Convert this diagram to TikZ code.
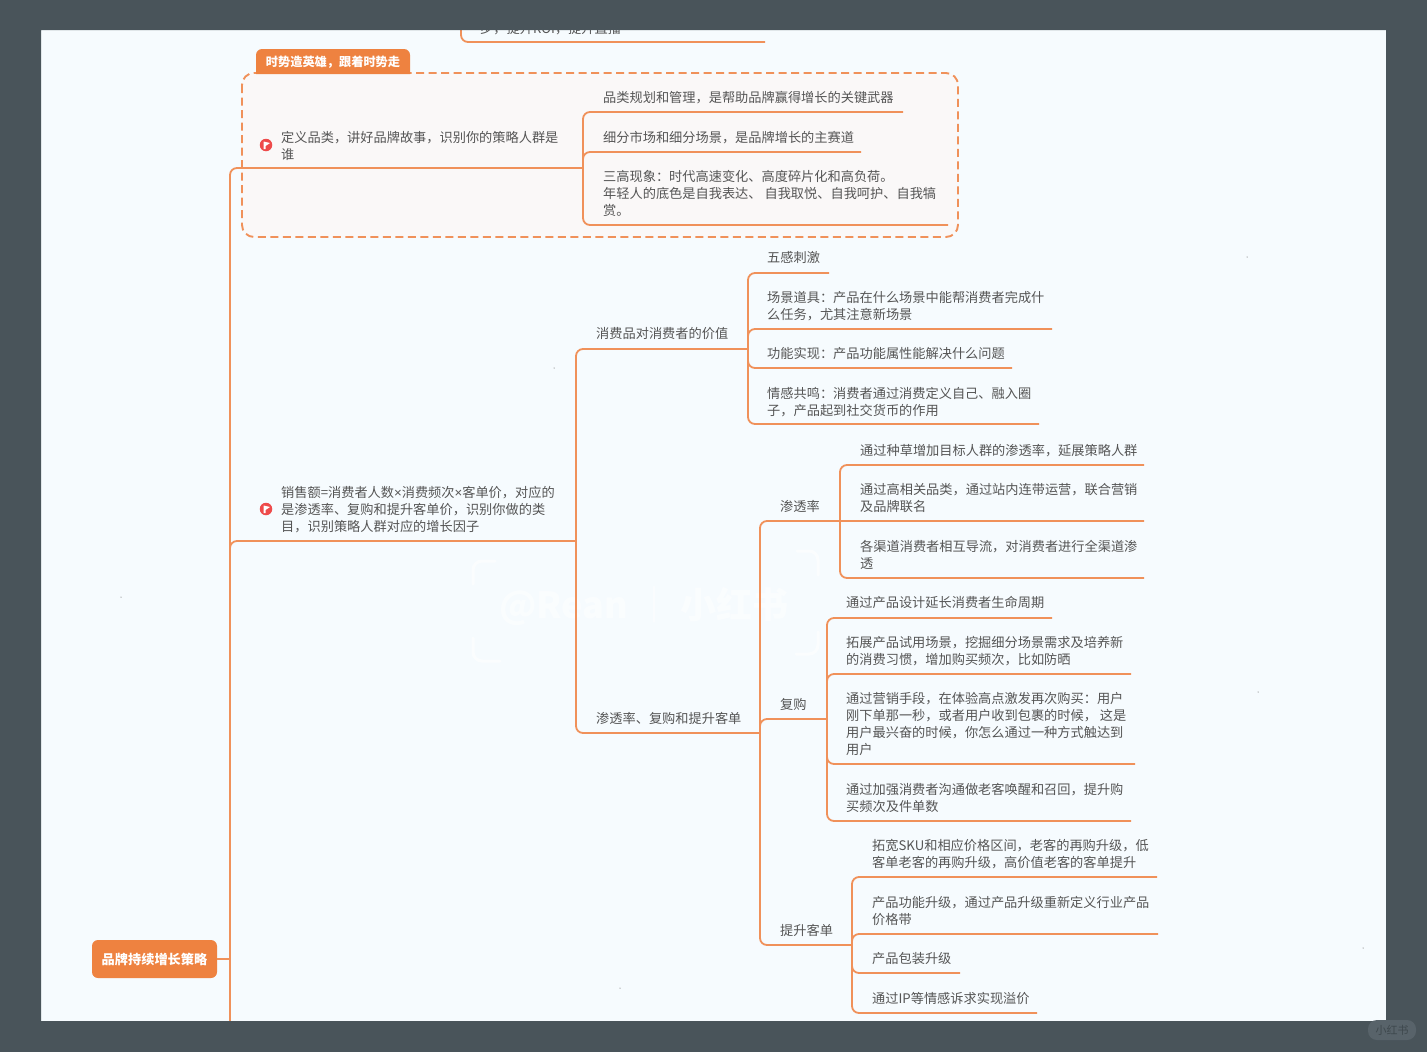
\documentclass[tikz,border=0pt]{standalone}
\usepackage{fontspec}
\setmainfont{Noto Sans CJK SC}
\newfontfamily\latinnarrow{Liberation Sans}
\newcommand{\narrowtimes}{{\latinnarrow ×}}
\definecolor{framedark}{HTML}{49545A}
\definecolor{paper}{HTML}{F6FBFE}
\definecolor{groupfill}{HTML}{FAF8F8}
\definecolor{mapline}{HTML}{F0915A}
\definecolor{boxfill}{HTML}{EE8240}
\definecolor{inktext}{HTML}{555555}
\definecolor{flagred}{HTML}{EE4B4B}
\definecolor{badgegrey}{HTML}{58636A}
\definecolor{badgetext}{HTML}{3E484D}
\tikzset{
  link/.style={draw=mapline,line width=1.8pt,rounded corners=7pt},
  leaf/.style={anchor=west,inner sep=0pt,align=left,text=inktext,yshift=-.6pt,font=\fontsize{13.2}{17}\selectfont},
  titlebox/.style={fill=boxfill,rounded corners=6pt,text=white,inner sep=0pt,font=\bfseries\fontsize{13.2}{15}\selectfont},
  flagdot/.style={circle,fill=flagred,minimum size=12.5pt,inner sep=0pt},
  speck/.style={circle,fill=black!70,minimum size=1pt,inner sep=0pt},
  wmark/.style={draw=white,line width=3pt,line cap=round,rounded corners=9pt,opacity=.6},
}
\begin{document}
\begin{tikzpicture}[x=1pt,y=-1pt]
\useasboundingbox (0,0) rectangle (1427,1052);
\fill[paper] (0,0) rectangle (1427,1052);

% group frame
\draw[draw=mapline,line width=1.9pt,dash pattern=on 8pt off 4.5pt,rounded corners=12pt,fill=groupfill] (242,73) rectangle (958,237);

% watermark
\node[text=white,opacity=.55,inner sep=0pt,font=\bfseries\fontsize{36}{38}\selectfont] (wm) at (644,606) {@Rean ｜ 小红书};
\draw[wmark] (495,561) -- (473,561) -- (473,584);
\draw[wmark] (473,638) -- (473,661) -- (500,661);
\draw[wmark] (797,551) -- (818,551) -- (818,575);
\draw[wmark] (818,632) -- (818,654) -- (796,654);

% specks
\node[speck] (s1) at (554,368) {};
\node[speck] (s2) at (121,597) {};
\node[speck] (s3) at (1247,257) {};
\node[speck] (s4) at (1258,692) {};
\node[speck] (s5) at (1363,948) {};
\node[speck] (s6) at (620,988) {};

% junctions and line ends
\coordinate (trunk) at (230,959);
\coordinate (trunkend) at (230,1032);
\coordinate (jA) at (583,168);
\coordinate (jB) at (576,541);
\coordinate (jC) at (748,349);
\coordinate (jD) at (760,733);
\coordinate (jE) at (840,521);
\coordinate (jF) at (827,719);
\coordinate (jG) at (852,945);
\coordinate (topA) at (461,18);
\coordinate (topB) at (765,42);
\coordinate (a1) at (903,112);
\coordinate (a2) at (861,152);
\coordinate (a3) at (948,225);
\coordinate (c1) at (829,273);
\coordinate (c2) at (1052,329);
\coordinate (c3) at (1012,368);
\coordinate (c4) at (1039,424);
\coordinate (e1) at (1144,465);
\coordinate (e2) at (1144,521);
\coordinate (e3) at (1144,578);
\coordinate (f1) at (1052,618);
\coordinate (f2) at (1131,674);
\coordinate (f3) at (1135,764);
\coordinate (f4) at (1131,821);
\coordinate (g1) at (1157,877);
\coordinate (g2) at (1158,934);
\coordinate (g3) at (960,973);
\coordinate (g4) at (1037,1013);

% text
\node[leaf] (top) at (480,28) {步，提升ROI，提升直播};
\node[leaf] (A) at (281,145.5) {定义品类，讲好品牌故事，识别你的策略人群是\\谁};
\node[leaf] (a1t) at (603,97) {品类规划和管理，是帮助品牌赢得增长的关键武器};
\node[leaf] (a2t) at (603,137) {细分市场和细分场景，是品牌增长的主赛道};
\node[leaf] (a3t) at (603,193) {三高现象：时代高速变化、高度碎片化和高负荷。\\年轻人的底色是自我表达、 自我取悦、自我呵护、自我犒\\赏。};
\node[leaf] (B) at (281,509) {销售额=消费者人数\narrowtimes 消费频次\narrowtimes 客单价，对应的\\是渗透率、复购和提升客单价，识别你做的类\\目，识别策略人群对应的增长因子};
\node[leaf] (C) at (596,333) {消费品对消费者的价值};
\node[leaf] (c1t) at (767,257) {五感刺激};
\node[leaf] (c2t) at (767,305.5) {场景道具：产品在什么场景中能帮消费者完成什\\么任务，尤其注意新场景};
\node[leaf] (c3t) at (767,353) {功能实现：产品功能属性能解决什么问题};
\node[leaf] (c4t) at (767,401.5) {情感共鸣：消费者通过消费定义自己、融入圈\\子，产品起到社交货币的作用};
\node[leaf] (D) at (596,718) {渗透率、复购和提升客单};
\node[leaf] (E) at (780,506) {渗透率};
\node[leaf] (e1t) at (860,450) {通过种草增加目标人群的渗透率，延展策略人群};
\node[leaf] (e2t) at (860,497.5) {通过高相关品类，通过站内连带运营，联合营销\\及品牌联名};
\node[leaf] (e3t) at (860,554.5) {各渠道消费者相互导流，对消费者进行全渠道渗\\透};
\node[leaf] (F) at (780,704) {复购};
\node[leaf] (f1t) at (846,602) {通过产品设计延长消费者生命周期};
\node[leaf] (f2t) at (846,650.5) {拓展产品试用场景，挖掘细分场景需求及培养新\\的消费习惯，增加购买频次，比如防晒};
\node[leaf] (f3t) at (846,723.5) {通过营销手段，在体验高点激发再次购买：用户\\刚下单那一秒，或者用户收到包裹的时候， 这是\\用户最兴奋的时候，你怎么通过一种方式触达到\\用户};
\node[leaf] (f4t) at (846,797.5) {通过加强消费者沟通做老客唤醒和召回，提升购\\买频次及件单数};
\node[leaf] (G) at (780,930) {提升客单};
\node[leaf] (g1t) at (872,853.5) {拓宽SKU和相应价格区间，老客的再购升级，低\\客单老客的再购升级，高价值老客的客单提升};
\node[leaf] (g2t) at (872,910.5) {产品功能升级，通过产品升级重新定义行业产品\\价格带};
\node[leaf] (g3t) at (872,958) {产品包装升级};
\node[leaf] (g4t) at (872,998) {通过IP等情感诉求实现溢价};

% connectors
\draw[link] (topA) |- (topB);
\draw[link] (trunk) |- (jA);
\draw[link] (trunk) |- (jB);
\draw[link] (trunk) -- (trunkend);
\draw[link] (jA) |- (a1);
\draw[link] (jA) |- (a2);
\draw[link] (jA) |- (a3);
\draw[link] (jB) |- (jC);
\draw[link] (jB) |- (jD);
\draw[link] (jC) |- (c1);
\draw[link] (jC) |- (c2);
\draw[link] (jC) |- (c3);
\draw[link] (jC) |- (c4);
\draw[link] (jD) |- (e2);
\draw[link] (jD) |- (jF);
\draw[link] (jD) |- (jG);
\draw[link] (jE) |- (e1);
\draw[link] (jE) |- (e3);
\draw[link] (jF) |- (f1);
\draw[link] (jF) |- (f2);
\draw[link] (jF) |- (f3);
\draw[link] (jF) |- (f4);
\draw[link] (jG) |- (g1);
\draw[link] (jG) |- (g2);
\draw[link] (jG) |- (g3);
\draw[link] (jG) |- (g4);

% flags
\node[flagdot] (flagA) at (266,145) {};
\fill[white] (263.5,141.5) -- (270,143) -- (265.5,146) -- (265.5,149) -- (263.5,149) -- cycle;
\node[flagdot] (flagB) at (266,509) {};
\fill[white] (263.5,505.5) -- (270,507) -- (265.5,510) -- (265.5,513) -- (263.5,513) -- cycle;

% titled boxes
\fill[boxfill] (256,74) [rounded corners=6pt] -- (256,49) -- (410,49) [sharp corners] -- (410,74) -- cycle;
\node[text=white,inner sep=0pt,font=\bfseries\fontsize{12.2}{15}\selectfont] (tab) at (333,62) {时势造英雄，跟着时势走};
\node[titlebox,minimum width=125pt,minimum height=38pt] (root) at (154.5,959) {品牌持续增长策略};
\draw[link] (root.east) -- (trunk);

% outer dark frame
\fill[framedark,even odd rule] (0,0) rectangle (1427,1052) (41,30) rectangle (1386,1021);
\node[fill=badgegrey,rounded corners=9pt,minimum width=48pt,minimum height=20pt,inner sep=0pt,text=badgetext,font=\fontsize{11}{12}\selectfont] (badge) at (1392,1030) {小红书};
\end{tikzpicture}
\end{document}
